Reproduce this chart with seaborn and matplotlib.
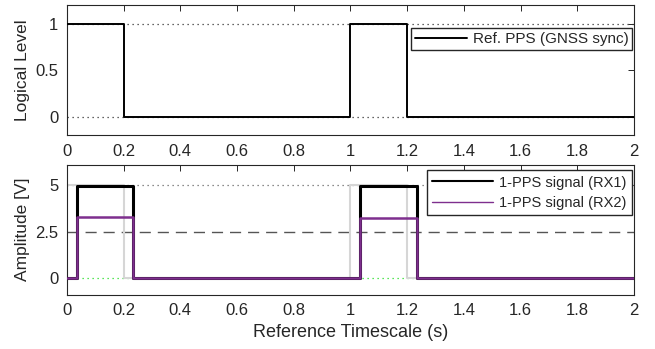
import matplotlib
matplotlib.use("Agg")
import matplotlib.pyplot as plt
import seaborn as sns
import numpy as np
import pandas as pd

# step breakpoints (time in s, level held until next time)
ref_t = [0.0, 0.2, 1.0, 1.2, 2.0]
ref_level = [1, 0, 1, 0, 0]

rx_t = [0.0, 0.035, 0.235, 1.035, 1.235, 2.0]
rx1_level = [0.0, 4.97, 0.0, 4.97, 0.0, 0.0]
rx2_level = [0.0, 3.3, 0.0, 3.25, 0.0, 0.0]

ref_amp = 5.0
threshold = 2.5

xticks = [0, 0.2, 0.4, 0.6, 0.8, 1, 1.2, 1.4, 1.6, 1.8, 2]
xticklabels = ["0", "0.2", "0.4", "0.6", "0.8", "1", "1.2", "1.4", "1.6", "1.8", "2"]

sns.set_theme(style="white")
plt.rcParams["font.family"] = ["Liberation Sans", "DejaVu Sans"]
plt.rcParams["axes.edgecolor"] = "#262626"
plt.rcParams["xtick.color"] = "#262626"
plt.rcParams["ytick.color"] = "#262626"
plt.rcParams["axes.labelcolor"] = "#262626"

ref_df = pd.DataFrame({"t": ref_t, "level": ref_level})
ref5_df = pd.DataFrame({"t": ref_t, "level": [v * ref_amp for v in ref_level]})
rx1_df = pd.DataFrame({"t": rx_t, "level": rx1_level})
rx2_df = pd.DataFrame({"t": rx_t, "level": rx2_level})

fig, (ax1, ax2) = plt.subplots(2, 1, figsize=(6.55, 3.49), dpi=100)
fig.subplots_adjust(left=0.102, right=0.968, top=0.986, bottom=0.155, hspace=0.225)

# top panel: reference PPS
ax1.axhline(1, color="#333333", ls=(0, (1, 3)), lw=0.9, zorder=1)
ax1.axhline(0, color="#333333", ls=(0, (1, 3)), lw=0.9, zorder=1)
sns.lineplot(data=ref_df, x="t", y="level", drawstyle="steps-post", estimator=None,
             color="black", lw=1.4, ax=ax1, label="Ref. PPS (GNSS sync)", zorder=3)
ax1.set_ylim(-0.2, 1.2)
ax1.set_yticks([0, 0.5, 1])
ax1.set_yticklabels(["0", "0.5", "1"])
ax1.set_ylabel("Logical Level", fontsize=12.5)
ax1.set_xlabel("")
ax1.legend(loc="upper right", bbox_to_anchor=(0.997, 0.82), borderaxespad=0,
           fontsize=11, frameon=True, fancybox=False, edgecolor="#262626",
           framealpha=1, borderpad=0.25, handlelength=3.4, handletextpad=0.4)

# bottom panel: received signals
ax2.axhline(ref_amp, color="#666666", ls=(0, (1, 3)), lw=0.9, zorder=1)
ax2.axhline(0, color="#22dd22", ls=(0, (1, 3)), lw=0.9, zorder=1)
ax2.axhline(threshold, color="#555555", ls=(0, (8, 5)), lw=1.0, zorder=1)
sns.lineplot(data=ref5_df, x="t", y="level", drawstyle="steps-post", estimator=None,
             color="#d6d6d6", lw=1.5, ax=ax2, legend=False, zorder=2)
sns.lineplot(data=rx1_df, x="t", y="level", drawstyle="steps-post", estimator=None,
             color="black", lw=2.2, ax=ax2, label="1-PPS signal (RX1)", zorder=3)
sns.lineplot(data=rx2_df, x="t", y="level", drawstyle="steps-post", estimator=None,
             color="#7e2f8e", lw=1.8, ax=ax2, label="1-PPS signal (RX2)", zorder=4)
ax2.set_ylim(-0.9, 6.1)
ax2.set_yticks([0, 2.5, 5])
ax2.set_yticklabels(["0", "2.5", "5"])
ax2.set_ylabel("Amplitude [V]", fontsize=12.5)
ax2.set_xlabel("Reference Timescale (s)", fontsize=13)
leg = ax2.legend(loc="upper right", bbox_to_anchor=(0.996, 0.955), borderaxespad=0,
                 fontsize=10.5, frameon=True, fancybox=False, edgecolor="#262626",
                 framealpha=1, borderpad=0.35, handlelength=4.2, handletextpad=0.4,
                 labelspacing=0.45)
for line in leg.get_lines():
    line.set_linewidth(1.5 if line.get_color() == "black" else 1.0)

for ax in (ax1, ax2):
    ax.set_xlim(0, 2)
    ax.set_xticks(xticks)
    ax.set_xticklabels(xticklabels)
    ax.tick_params(direction="in", length=4, width=0.7, top=True, right=True,
                   labelsize=12, pad=6)
    for s in ax.spines.values():
        s.set_linewidth(0.8)
    ax.grid(False)

fig.savefig("out.png", dpi=100)
